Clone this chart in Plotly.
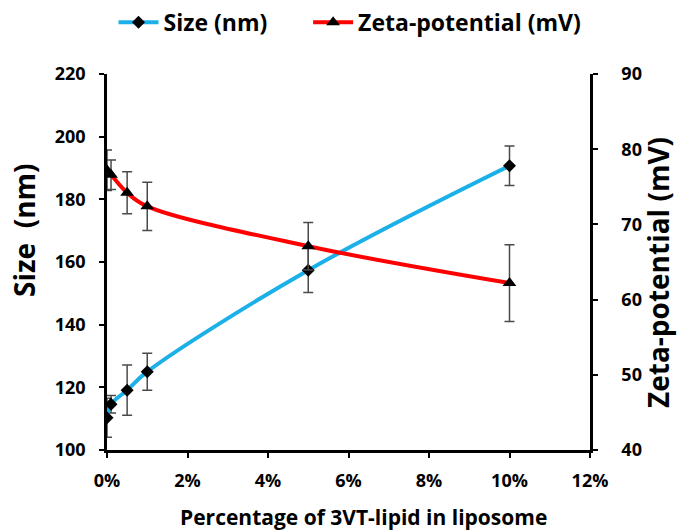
import plotly.graph_objects as go

pct = [0, 0.1, 0.5, 1, 5, 10]
size_nm = [110.3, 114.6, 119.1, 125.0, 157.4, 190.7]
size_err = [6.2, 2.8, 8.0, 5.9, 7.1, 6.3]
zeta_mv = [77.2, 76.6, 74.2, 72.4, 67.1, 62.2]
zeta_err = [2.7, 1.95, 2.8, 3.2, 3.15, 5.1]

x_ticks = [0, 2, 4, 6, 8, 10, 12]
x_ticklabels = ["0%", "2%", "4%", "6%", "8%", "10%", "12%"]

FONT = "Open Sans"
err_color = "#4a4a4a"

fig = go.Figure()
fig.add_trace(go.Scatter(
    x=pct, y=size_nm, name="Size (nm)\u00a0\u00a0\u00a0\u00a0\u00a0\u00a0", mode="lines+markers",
    line=dict(color="#1CB0E8", width=4, shape="spline", smoothing=1),
    marker=dict(symbol="diamond", size=10, color="black"),
    error_y=dict(type="data", array=size_err, visible=True, color=err_color,
                 thickness=1.5, width=5),
    yaxis="y",
))
fig.add_trace(go.Scatter(
    x=pct, y=zeta_mv, name="Zeta-potential (mV)", mode="lines+markers",
    line=dict(color="#FF0000", width=4, shape="spline", smoothing=1),
    marker=dict(symbol="triangle-up", size=12, color="black"),
    error_y=dict(type="data", array=zeta_err, visible=True, color=err_color,
                 thickness=1.5, width=5),
    yaxis="y2",
))

axis_common = dict(
    showgrid=False, zeroline=False, showline=True, linecolor="black",
    linewidth=2.5, ticks="outside", ticklen=5, tickwidth=2, tickcolor="black",
    tickfont=dict(family=FONT, size=18, color="black", weight="bold"),
)

# plot area in pixels: x 107..590, y 74..450
L, R, T, B = 107, 590, 74, 450
def px(x):
    return (x - L) / (R - L)
def py(y):
    return (B - y) / (B - T)

fig.update_layout(
    width=683, height=531,
    margin=dict(l=L, r=683 - R, t=T, b=531 - B, autoexpand=False),
    paper_bgcolor="white", plot_bgcolor="white",
    font=dict(family=FONT, color="black"),
    xaxis=dict(range=[0, 12], tickvals=x_ticks, ticktext=x_ticklabels,
               ticklabelstandoff=8, **axis_common),
    yaxis=dict(range=[100, 220], dtick=20, ticklabelstandoff=10, **axis_common),
    yaxis2=dict(range=[40, 90], dtick=10, overlaying="y", side="right",
                ticklabelstandoff=20, **axis_common),
    legend=dict(
        orientation="h", x=px(350), xanchor="center",
        yref="container", y=0.958, yanchor="middle",
        font=dict(family=FONT, size=23, color="black", weight="bold"),
        itemwidth=40, tracegroupgap=0, bgcolor="rgba(0,0,0,0)",
    ),
    showlegend=True,
    annotations=[
        dict(text="Percentage of 3VT-lipid in liposome", xref="paper", yref="paper",
             x=px(363), y=py(517), xanchor="center", yanchor="middle", showarrow=False,
             font=dict(family=FONT, size=21, color="black", weight="bold")),
        dict(text="Size\u00a0\u00a0(nm)", xref="paper", yref="paper", textangle=-90,
             x=px(24), y=py(230), xanchor="center", yanchor="middle", showarrow=False,
             font=dict(family=FONT, size=28, color="black", weight="bold")),
        dict(text="Zeta-potential (mV)", xref="paper", yref="paper", textangle=-90,
             x=px(658), y=py(273), xanchor="center", yanchor="middle", showarrow=False,
             font=dict(family=FONT, size=28, color="black", weight="bold")),
    ],
)

fig.write_html("out.html")
